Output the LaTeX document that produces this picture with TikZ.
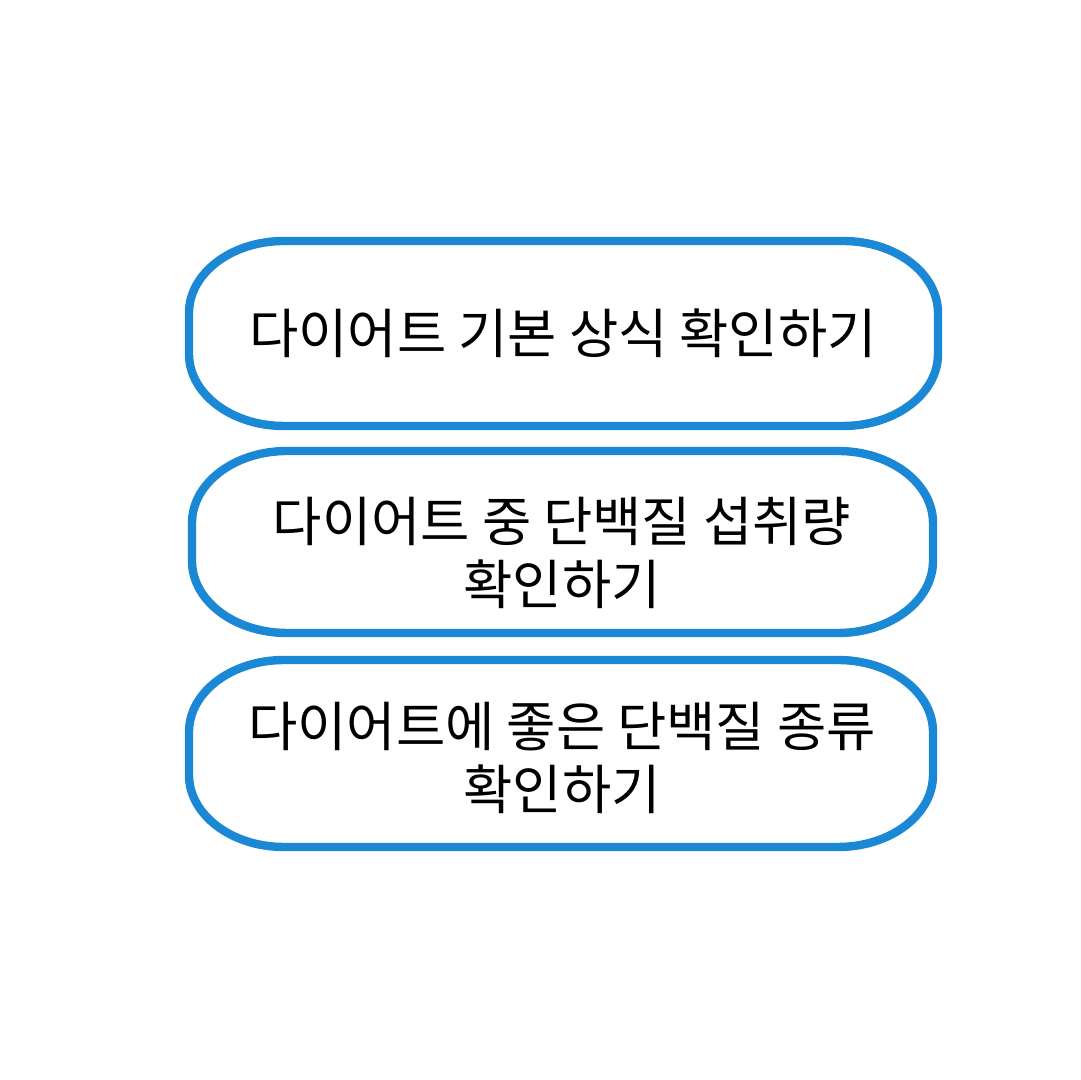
\documentclass[tikz,border=0pt]{standalone}
\usepackage{fontspec}
\newfontfamily\krfont{Noto Sans CJK KR}
\definecolor{boxblue}{RGB}{26,136,212}
\tikzset{
  boxline/.style={draw=boxblue, line width=4.2pt, fill=white},
  lbl/.style={font=\krfont\fontsize{26.8pt}{31.5pt}\selectfont, text=black, align=center, inner sep=0pt}
}
\newcommand\stadiumbox[4]{%
  \draw[boxline] ({#1+95},#2) -- ({#3-95},#2)
    arc[start angle=-90,end angle=0,x radius=47.5pt,y radius=36pt]
    -- (#3,{#4-72})
    arc[start angle=0,end angle=90,x radius=47.5pt,y radius=36pt]
    -- ({#1+95},#4)
    arc[start angle=90,end angle=180,x radius=47.5pt,y radius=36pt]
    -- (#1,{#2+72})
    arc[start angle=180,end angle=270,x radius=47.5pt,y radius=36pt]
    -- cycle;}
\begin{document}
\begin{tikzpicture}[x=0.5pt,y=0.5pt]
\fill[white] (0,0) rectangle (1080,1080);
\useasboundingbox (0,0) rectangle (1080,1080);
\stadiumbox{189}{654}{938}{839}
\stadiumbox{192}{447}{933}{629}
\stadiumbox{189}{233}{933}{420}
\node[lbl] (t1) at (563,747) {다이어트 기본 상식 확인하기};
\node[lbl] (t2) at (562,527) {다이어트 중 단백질 섭취량\\확인하기};
\node[lbl] (t3) at (562,322) {다이어트에 좋은 단백질 종류\\확인하기};
\end{tikzpicture}
\end{document}
